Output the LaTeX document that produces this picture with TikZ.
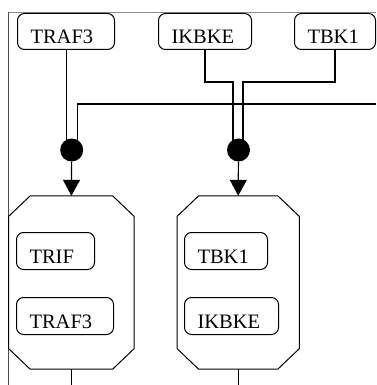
\documentclass[tikz,border=0pt]{standalone}
\usepackage{fontspec}
\setmainfont{Liberation Serif}
\usetikzlibrary{arrows.meta,backgrounds}
\tikzset{
  pbox/.style={draw, line width=1pt, rounded corners=7pt, anchor=north west,
    inner xsep=13pt, inner ysep=0pt, minimum height=36pt,
    text height=24pt, text depth=0pt, align=left, font=\fontsize{20.5}{21}\selectfont},
  complexbox/.style={rectangle, inner sep=0pt, minimum height=173pt},
  complexline/.style={line width=1pt},
  junction/.style={circle, fill=black, inner sep=0pt, minimum size=23pt},
  link/.style={line width=1.2pt},
  act/.style={link, -{Triangle[width=17pt,length=16pt]}},
  frameline/.style={line width=0.8pt}
}
\begin{document}
\begin{tikzpicture}[x=1pt,y=-1pt]
\useasboundingbox (0,0) rectangle (376,385);

% outer frame edges
\draw[frameline, black!45] (8,12) -- (376,12);
\draw[frameline, black!70] (8,12) -- (8,385);

% upstream proteins
\node[pbox, text width=71pt] (t3) at (17,13) {TRAF3};
\node[pbox, text width=67pt] (ik) at (158,13) {IKBKE};
\node[pbox, text width=55pt] (tb) at (294,13) {TBK1};

% complexes (octagonal outlines drawn from the node corners)
\node[complexbox, minimum width=125pt] (o1) at (71.4,282.5) {};
\node[complexbox, minimum width=121.7pt] (o2) at (238.2,282.5) {};
\foreach \o in {o1,o2}{
  \draw[complexline]
    ([xshift=21.5pt]\o.north west) -- ([xshift=-21.5pt]\o.north east)
    -- ([yshift=-20.5pt]\o.north east) -- ([yshift=20.5pt]\o.south east)
    -- ([xshift=-21.5pt]\o.south east) -- ([xshift=21.5pt]\o.south west)
    -- ([yshift=20.5pt]\o.south west) -- ([yshift=-20.5pt]\o.north west)
    -- cycle;
}

\node[pbox, text width=52pt, minimum height=37pt] (trif) at (16,232) {TRIF};
\node[pbox, text width=71pt, minimum height=37pt] (t3b) at (16,297) {TRAF3};
\node[pbox, text width=57pt, minimum height=37pt] (tbb) at (184,232) {TBK1};
\node[pbox, text width=68pt, minimum height=37pt] (ikb) at (184,297) {IKBKE};

% junctions
\node[junction] (c1) at (71.7,150) {};
\node[junction] (c2) at (238.5,150) {};

\coordinate (feed) at (376,104);
\coordinate (out1) at (o1.south |- 0,385);
\coordinate (out2) at (o2.south |- 0,385);

\begin{pgfonlayer}{background}
  \draw[link] ([xshift=-5pt]c1.center |- t3.south) -- ([xshift=-5pt]c1.center);
  \draw[link] (feed) -| ([xshift=6pt]c1.center);
  \draw[link] (ik.south) -- ++(0,32) -| ([xshift=-5.5pt]c2.center);
  \draw[link] (tb.south) -- ++(0,32) -| ([xshift=4.5pt]c2.center);
\end{pgfonlayer}

\draw[act] (c1) -- (o1.north);
\draw[act] (c2) -- (o2.north);
\draw[link] (o1.south) -- (out1);
\draw[link] (o2.south) -- (out2);
\end{tikzpicture}
\end{document}
